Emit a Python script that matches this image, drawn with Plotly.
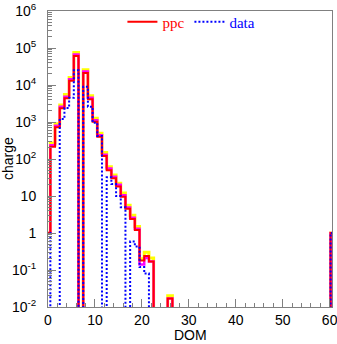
import plotly.graph_objects as go

# ---- data ----
DOM = list(range(61))

PPC = [1, 215, 720, 2350, 4400, 13000, 61000, 0, 21000, 4100,
       1020, 400, 120, 50, 30, 18, 9.5, 4.5, 2.4, 1.2,
       0.18, 0.24, 0.17, 0, 0, 0, 0.017, 0, 0, 0,
       0, 0, 0, 0, 0, 0, 0, 0, 0, 0,
       0, 0, 0, 0, 0, 0, 0, 0, 0, 0,
       0, 0, 0, 0, 0, 0, 0, 0, 0, 0,
       1]

PPC_UPPER = [1, 270, 900, 2900, 5500, 16000, 76000, 0, 26000, 5100,
             1270, 500, 150, 62, 37, 22, 12, 5.6, 3.0, 1.5,
             0.2, 0.3, 0.21, 0, 0, 0, 0.02, 0, 0, 0,
             0, 0, 0, 0, 0, 0, 0, 0, 0, 0,
             0, 0, 0, 0, 0, 0, 0, 0, 0, 0,
             0, 0, 0, 0, 0, 0, 0, 0, 0, 0,
             1]

PPC_MID = [1, 235, 790, 2600, 4800, 14300, 67000, 0, 23000, 4500,
           1120, 440, 130, 55, 33, 20, 10.4, 4.9, 2.6, 1.3,
           0.14, 0.21, 0.17, 0, 0, 0, 0.017, 0, 0, 0,
           0, 0, 0, 0, 0, 0, 0, 0, 0, 0,
           0, 0, 0, 0, 0, 0, 0, 0, 0, 0,
           0, 0, 0, 0, 0, 0, 0, 0, 0, 0,
           1]

DATA = [1, 0, 0, 1200, 2400, 4500, 25000, 0, 9000, 2600,
        950, 420, 0, 32, 21, 10, 5, 0, 0.59, 0.43,
        0.12, 0.08, 0, 0, 0, 0, 0, 0, 0, 0,
        0, 0, 0, 0, 0, 0, 0, 0, 0, 0,
        0, 0, 0, 0, 0, 0, 0, 0, 0, 0,
        0, 0, 0, 0, 0, 0, 0, 0, 0, 0,
        1]

# bin edges (bins centred on integer DOM numbers; last bin drawn narrow as in picture)
EDGES = [c - 0.5 for c in DOM[:-1]] + [60.2, 60.5]

Y_TICKS = [1e-2, 1e-1, 1, 10, 1e2, 1e3, 1e4, 1e5, 1e6]
Y_LABELS = ["10<sup>-2</sup>", "10<sup>-1</sup>", "1", "10", "10<sup>2</sup>",
            "10<sup>3</sup>", "10<sup>4</sup>", "10<sup>5</sup>", "10<sup>6</sup>"]

FLOOR = 1e-3  # empty bins are drawn down to the bottom of the frame


def step(vals):
    y = [v if v > 0 else FLOOR for v in vals]
    return EDGES, y + [y[-1]]


fig = go.Figure()

for vals, color, width, dash, name, show in [
    (PPC_UPPER, "#ffff00", 3, "solid", "upper", False),
    (PPC_MID, "#ff00ff", 2.5, "solid", "mid", False),
    (PPC, "#ff0000", 2, "solid", "<span style='color:#ff0000'>ppc</span>", True),
    (DATA, "#0000ff", 2, "2px,2px", "<span style='color:#0000ff'>data</span>", True),
]:
    x, y = step(vals)
    fig.add_trace(go.Scatter(
        x=x, y=y, mode="lines", line=dict(color=color, width=width, dash=dash, shape="hv"),
        name=name, showlegend=show, hoverinfo="skip"))

minor_y = [k * 10 ** d for d in range(-2, 6) for k in range(2, 10)]

axis_color = "#808080"
fig.update_layout(
    width=337, height=344, autosize=False,
    margin=dict(l=48, r=5, t=11, b=37, autoexpand=False),
    paper_bgcolor="white", plot_bgcolor="white",
    font=dict(family="Liberation Sans, Arial, sans-serif", size=14, color="black"),
    showlegend=True,
    legend=dict(orientation="h", x=0.505, xanchor="center", y=0.963, yanchor="middle",
                bgcolor="rgba(0,0,0,0)", itemwidth=30,
                font=dict(family="Liberation Serif, Times New Roman, serif", size=15)),
    xaxis=dict(range=[0, 60.5], showline=True, linecolor=axis_color, linewidth=1, mirror=True,
               ticks="inside", ticklen=8, tickcolor=axis_color, tick0=0, dtick=10,
               minor=dict(dtick=2, ticks="inside", ticklen=4, tickcolor=axis_color),
               showgrid=False, zeroline=False, ticklabelstandoff=0, automargin=False,
               ticklabeloverflow="allow"),
    yaxis=dict(type="log", range=[-2, 6], showline=True, linecolor=axis_color, linewidth=1,
               mirror=True, ticks="inside", ticklen=8, tickcolor=axis_color,
               tickmode="array", tickvals=Y_TICKS, ticktext=Y_LABELS,
               minor=dict(tickmode="array", tickvals=minor_y, ticks="inside", ticklen=4,
                          tickcolor=axis_color),
               showgrid=False, zeroline=False, ticklabelstandoff=8, automargin=False,
               ticklabeloverflow="allow"),
    annotations=[
        dict(text="charge", xref="paper", yref="paper", x=-0.141, y=0.503, textangle=-90,
             showarrow=False, xanchor="center", yanchor="middle", font=dict(size=14)),
        dict(text="DOM", xref="paper", yref="paper", x=0.5035, y=-0.0946,
             showarrow=False, xanchor="center", yanchor="middle", font=dict(size=14)),
    ],
)

fig.write_html("out.html")
